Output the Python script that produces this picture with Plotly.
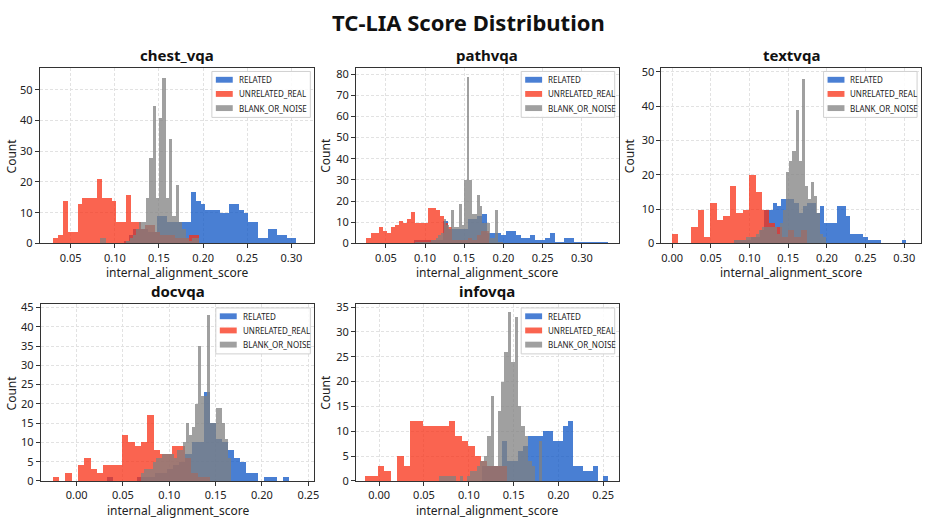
import plotly.graph_objects as go

# ---------------- data (histogram counts) ----------------
DATASETS = ["chest_vqa", "pathvqa", "textvqa", "docvqa", "infovqa"]
SERIES = ["RELATED", "UNRELATED_REAL", "BLANK_OR_NOISE"]

# each series: first bin edge, bin width, counts per bin
chest_related_edge, chest_related_width = 0.1100, 0.00543
chest_related = [1, 3, 5, 5, 5, 4, 4, 9, 9, 7, 7, 7, 7, 7, 17, 14, 13, 11, 11, 11, 10, 10,
                 13, 13, 11, 10, 7, 7, 2, 2, 5, 5, 3, 3, 2, 2]
chest_unrelated_edge, chest_unrelated_width = 0.0300, 0.0055
chest_unrelated = [2, 3, 14, 4, 4, 13, 15, 15, 15, 21, 15, 15, 14, 7, 7, 16, 7, 7, 5, 6, 6, 4,
                   3, 3, 3, 2, 2, 2, 3, 3]
chest_blank_edge, chest_blank_width = 0.0828, 0.003733
chest_blank = [2, 2, 0, 0, 0, 0, 0, 0, 1, 2, 3, 5, 7, 7, 15, 28, 45, 15, 41, 54, 15, 34, 9, 19,
               7, 5, 2, 1, 2, 2]

path_related_edge, path_related_width = 0.0867, 0.00616
path_related = [2, 2, 2, 2, 2, 2, 11, 7, 7, 7, 7, 12, 12, 13, 14, 5, 5, 5, 4, 6, 6, 4, 3, 3, 4,
                2, 2, 3, 5, 1, 1, 3, 3, 1, 1, 1, 1, 1, 1, 1]
path_unrelated_edge, path_unrelated_width = 0.02544, 0.0052
path_unrelated = [3, 5, 5, 8, 6, 5, 8, 9, 11, 10, 12, 15, 10, 10, 10, 17, 17, 16, 13, 10, 8, 2,
                  2, 2, 2, 3, 2, 4, 6, 6]
path_blank_edge, path_blank_width = 0.0875, 0.00329
path_blank = [1, 1, 1, 1, 1, 1, 2, 2, 3, 4, 5, 12, 9, 7, 16, 8, 8, 19, 9, 30, 79, 30, 14, 14,
              23, 18, 10, 10, 10, 3, 3, 16, 1, 1]

text_related_edge, text_related_width = 0.0805, 0.00557
text_related = [1, 1, 1, 1, 2, 2, 4, 10, 10, 12, 11, 13, 13, 13, 12, 9, 11, 12, 12, 9, 11, 6, 6,
                6, 11, 11, 8, 3, 3, 3, 2, 1, 1, 1, 0, 0, 0, 0, 0, 1]
text_unrelated_edge, text_unrelated_width = 0.0, 0.00835
text_unrelated = [3, 0, 0, 5, 10, 2, 12, 7, 8, 17, 9, 10, 20, 15, 10, 6, 5, 2, 4, 2, 4]
text_blank_edge, text_blank_width = 0.0805, 0.00398
text_blank = [1, 1, 1, 1, 2, 2, 2, 3, 4, 5, 5, 5, 5, 5, 3, 6, 10, 21, 24, 27, 39, 24, 48, 17,
              13, 18, 14, 9, 3, 2]

doc_related_edge, doc_related_width = 0.0321, 0.00655
doc_related = [1, 0, 0, 0, 0, 1, 1, 1, 2, 2, 3, 4, 5, 7, 10, 10, 23, 15, 11, 10, 8, 6, 5, 2, 2,
               0, 1, 1, 0, 1]
doc_unrelated_edge, doc_unrelated_width = -0.02576, 0.00679
doc_unrelated = [1, 0, 2, 0, 4, 6, 3, 2, 4, 4, 4, 12, 10, 9, 10, 17, 8, 7, 7, 9, 9, 6, 2, 1, 1]
doc_blank_edge, doc_blank_width = 0.0696, 0.003215
doc_blank = [2, 3, 3, 3, 5, 6, 6, 7, 7, 7, 7, 6, 8, 8, 10, 15, 12, 14, 20, 35, 22, 22, 43, 15,
             15, 19, 19, 15, 11, 6]

info_related_edge, info_related_width = 0.1152, 0.00561
info_related = [3, 3, 3, 3, 8, 4, 4, 6, 7, 9, 9, 9, 10, 10, 8, 8, 11, 12, 3, 3, 2, 2, 3, 0, 1]
info_unrelated_edge, info_unrelated_width = -0.0159, 0.0072
info_unrelated = [1, 1, 3, 2, 0, 5, 3, 12, 12, 11, 11, 11, 11, 12, 9, 8, 7, 5, 4, 3, 3, 3]
info_blank_edge, info_blank_width = 0.0672, 0.00382
info_blank = [1, 1, 1, 1, 1, 0, 1, 0, 1, 2, 2, 3, 4, 5, 9, 17, 3, 14, 20, 26, 34, 24, 33, 15,
              11, 9, 4, 3, 0, 8]

HISTS = {
    "chest_vqa": [(chest_related_edge, chest_related_width, chest_related),
                  (chest_unrelated_edge, chest_unrelated_width, chest_unrelated),
                  (chest_blank_edge, chest_blank_width, chest_blank)],
    "pathvqa": [(path_related_edge, path_related_width, path_related),
                (path_unrelated_edge, path_unrelated_width, path_unrelated),
                (path_blank_edge, path_blank_width, path_blank)],
    "textvqa": [(text_related_edge, text_related_width, text_related),
                (text_unrelated_edge, text_unrelated_width, text_unrelated),
                (text_blank_edge, text_blank_width, text_blank)],
    "docvqa": [(doc_related_edge, doc_related_width, doc_related),
               (doc_unrelated_edge, doc_unrelated_width, doc_unrelated),
               (doc_blank_edge, doc_blank_width, doc_blank)],
    "infovqa": [(info_related_edge, info_related_width, info_related),
                (info_unrelated_edge, info_unrelated_width, info_unrelated),
                (info_blank_edge, info_blank_width, info_blank)],
}

# axis limits and ticks per panel
X_RANGES = [[0.015, 0.326], [0.0121, 0.347], [-0.0138, 0.3217], [-0.0386, 0.2565], [-0.0258, 0.2673]]
Y_RANGES = [[0, 57.2], [0, 83.1], [0, 51.2], [0, 45.9], [0, 35.6]]
Y_DTICKS = [10, 10, 10, 5, 5]
X_TICKS = [[0.05, 0.10, 0.15, 0.20, 0.25, 0.30],
           [0.05, 0.10, 0.15, 0.20, 0.25, 0.30],
           [0.00, 0.05, 0.10, 0.15, 0.20, 0.25, 0.30],
           [0.00, 0.05, 0.10, 0.15, 0.20, 0.25],
           [0.00, 0.05, 0.10, 0.15, 0.20, 0.25]]

# ---------------- styling / layout ----------------
W, H = 936, 529
FONT = "Noto Sans"
COLORS = ["#0d54c5", "#f83016", "#808080"]
OPACITY = 0.75

# axes boxes in pixels: (left, right, top, bottom)
BOXES = [(40, 316, 64, 244), (358, 622, 64, 244), (665, 926, 64, 244),
         (41, 316, 306, 487), (358, 622, 306, 487)]
YTITLE_X = [12, 327, 633, 12, 327]
LEGEND_W = [99, 94, 94, 95, 94]


def px(x):
    return x / W


def py(y):
    return 1 - y / H


fig = go.Figure()
annotations = []
shapes = []
layout = dict(
    width=W, height=H, margin=dict(l=0, r=0, t=0, b=0),
    paper_bgcolor="white", plot_bgcolor="white",
    barmode="overlay", bargap=0, showlegend=False,
    font=dict(family=FONT, size=11, color="#222"),
)

for i, name in enumerate(DATASETS):
    n = i + 1
    xa = "x" if n == 1 else f"x{n}"
    ya = "y" if n == 1 else f"y{n}"
    for s, (edge, width, counts) in enumerate(HISTS[name]):
        centers = [edge + width * (k + 0.5) for k in range(len(counts))]
        fig.add_trace(go.Bar(
            x=centers, y=counts, width=[width] * len(counts),
            name=SERIES[s], marker=dict(color=COLORS[s], line=dict(width=0)),
            opacity=OPACITY, xaxis=xa, yaxis=ya,
        ))
    l, r, t, b = BOXES[i]
    axkey = "xaxis" if n == 1 else f"xaxis{n}"
    aykey = "yaxis" if n == 1 else f"yaxis{n}"
    common = dict(showline=True, mirror=True, linecolor="#333", linewidth=1,
                  ticks="outside", ticklen=4, tickcolor="#333", tickwidth=1,
                  showgrid=True, gridcolor="#e2e2e2", griddash="3px,2px", gridwidth=1,
                  zeroline=False, tickfont=dict(size=11, color="#222"))
    layout[axkey] = dict(domain=[px(l), px(r)], range=X_RANGES[i], anchor=ya,
                         tickvals=X_TICKS[i], ticktext=[f"{v:.2f}" for v in X_TICKS[i]],
                         **common)
    layout[aykey] = dict(domain=[py(b), py(t)], range=Y_RANGES[i], anchor=xa,
                         dtick=Y_DTICKS[i], tick0=0, **common)

    # legend box (upper right inside the axes)
    bl, br, bt, bb = r - 4 - LEGEND_W[i], r - 4, t + 4, t + 51
    shapes.append(dict(type="rect", xref="paper", yref="paper",
                       x0=px(bl), x1=px(br), y0=py(bb), y1=py(bt),
                       fillcolor="rgba(255,255,255,0.85)", line=dict(color="#d0d0d0", width=1),
                       layer="above"))
    for s in range(3):
        cy = bt + 8.5 + 14.5 * s
        shapes.append(dict(type="rect", xref="paper", yref="paper",
                           x0=px(bl + 4), x1=px(bl + 21), y0=py(cy + 3), y1=py(cy - 3),
                           fillcolor=COLORS[s], opacity=OPACITY, line=dict(width=0),
                           layer="above"))
        annotations.append(dict(text=SERIES[s], x=px(bl + 25), y=py(cy),
                                xref="paper", yref="paper", showarrow=False,
                                xanchor="left", yanchor="middle",
                                font=dict(size=8, color="#222")))

    # subplot title
    annotations.append(dict(text=f"<b>{name}</b>", x=px((l + r) / 2), y=py(t - 13),
                            xref="paper", yref="paper", showarrow=False,
                            xanchor="center", yanchor="middle", font=dict(size=15, color="#111")))
    # x title
    annotations.append(dict(text="internal_alignment_score", x=px((l + r) / 2), y=py(b + 30),
                            xref="paper", yref="paper", showarrow=False,
                            xanchor="center", yanchor="middle", font=dict(size=12, color="#222")))
    # y title
    annotations.append(dict(text="Count", x=px(YTITLE_X[i]), y=py((t + b) / 2),
                            xref="paper", yref="paper", showarrow=False, textangle=-90,
                            xanchor="center", yanchor="middle", font=dict(size=12, color="#222")))

annotations.append(dict(text="<b>TC-LIA Score Distribution</b>", x=px(471), y=py(17),
                        xref="paper", yref="paper", showarrow=False,
                        xanchor="center", yanchor="middle", font=dict(size=22, color="#111")))
layout["annotations"] = annotations
layout["shapes"] = shapes
fig.update_layout(**layout)
fig.write_html("out.html")
